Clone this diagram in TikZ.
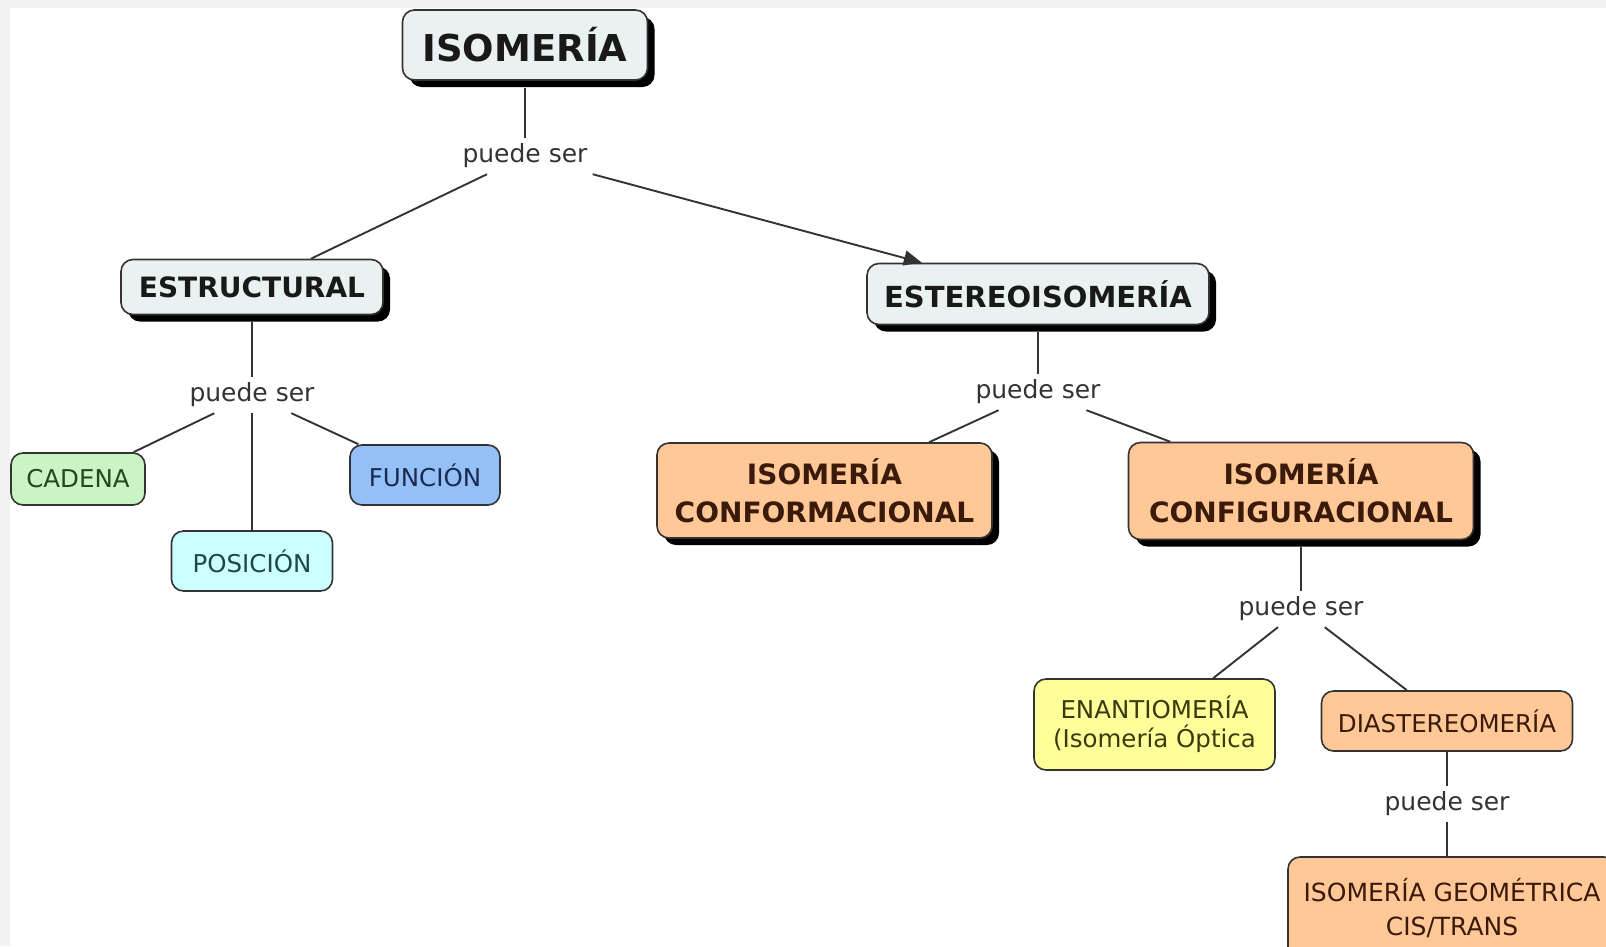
\documentclass[tikz,border=0pt]{standalone}
\usepackage{fontspec}
\setmainfont{DejaVu Sans}
\usetikzlibrary{arrows.meta,shadows}

\definecolor{grisBorde}{HTML}{F2F2F2}
\definecolor{fondoTit}{HTML}{E9F1F1}
\definecolor{lineaC}{HTML}{333333}
\definecolor{verdeC}{HTML}{C9F5C4}
\definecolor{verdeT}{HTML}{1E4A1E}
\definecolor{cianC}{HTML}{CCFFFF}
\definecolor{cianT}{HTML}{1E4848}
\definecolor{azulC}{HTML}{94BFF7}
\definecolor{azulT}{HTML}{1A2A50}
\definecolor{naranjaC}{HTML}{FFC896}
\definecolor{cafeT}{HTML}{3A1A0A}
\definecolor{amarilloC}{HTML}{FFFF99}
\definecolor{amarilloT}{HTML}{3A3A10}

\begin{document}
\begin{tikzpicture}[x=1pt,y=-1pt,
	concepto/.style={draw=lineaC, line width=1.6pt, rounded corners=12pt, align=center, inner sep=0pt,
		font=\fontsize{24.5}{30}\selectfont},
	sombra/.style={drop shadow={shadow xshift=7pt, shadow yshift=-7pt, opacity=1, fill=black}},
	titulo/.style={concepto, sombra, fill=fondoTit, text=black!90, font=\bfseries\fontsize{28}{34}\selectfont},
	naranja/.style={concepto, fill=naranjaC, text=cafeT},
	enlace/.style={font=\fontsize{25}{30}\selectfont, text=lineaC, inner xsep=12pt, minimum height=36pt},
	linea/.style={draw=lineaC, line width=1.9pt}]
			% fondo
			\useasboundingbox (0,0) rectangle (1606,946);
			\fill[white] (0,0) rectangle (1606,946);
			\fill[grisBorde] (0,0) rectangle (1606,8);
			\fill[grisBorde] (0,0) rectangle (10,946);
			% conceptos
			\node[titulo, font=\bfseries\fontsize{37}{40}\selectfont, minimum width=245pt, minimum height=70pt] (isomeria) at (525,45) {ISOMERÍA};
			\node[enlace] (ps1) at (525,156) {puede ser};
			\node[titulo, minimum width=262pt, minimum height=55pt] (estructural) at (252,287) {ESTRUCTURAL};
			\node[titulo, font=\bfseries\fontsize{29}{34}\selectfont, minimum width=342pt, minimum height=61pt] (estereo) at (1038,294) {ESTEREOISOMERÍA};
			\node[enlace] (ps2) at (252,395) {puede ser};
			\node[concepto, fill=verdeC, text=verdeT, minimum width=134pt, minimum height=52pt] (cadena) at (78,479) {CADENA};
			\node[concepto, fill=cianC, text=cianT, minimum width=161pt, minimum height=60pt] (posicion) at (252,561) {POSICIÓN};
			\node[concepto, fill=azulC, text=azulT, minimum width=150pt, minimum height=60pt] (funcion) at (425,475) {FUNCIÓN};
			\node[enlace] (ps3) at (1038,392) {puede ser};
			\node[naranja, sombra, font=\bfseries\fontsize{28}{38}\selectfont, minimum width=335pt, minimum height=95pt] (conform) at (824.5,490.5) {ISOMERÍA\\CONFORMACIONAL};
			\node[naranja, sombra, font=\bfseries\fontsize{28}{38}\selectfont, minimum width=345pt, minimum height=97pt] (config) at (1301,491) {ISOMERÍA\\CONFIGURACIONAL};
			\node[enlace] (ps4) at (1301,609) {puede ser};
			\node[concepto, fill=amarilloC, text=amarilloT, font=\fontsize{24.5}{29}\selectfont, minimum width=241pt, minimum height=91pt] (enantio) at (1154.5,724.5) {ENANTIOMERÍA\\(Isomería Óptica};
			\node[naranja, minimum width=251pt, minimum height=60pt] (diaster) at (1447,721) {DIASTEREOMERÍA};
			\node[enlace] (ps5) at (1447,804) {puede ser};
			\node[naranja, font=\fontsize{25}{34}\selectfont, minimum width=328pt, minimum height=103pt] (geometrica) at (1452,908.5) {ISOMERÍA GEOMÉTRICA\\CIS/TRANS};
			% conectores
			\draw[linea, shorten <=7pt] (isomeria) -- (ps1);
			\draw[linea] (ps1) -- (estructural);
			\draw[linea, -{Triangle[length=18pt,width=15pt]}] (ps1) -- (estereo);
			\draw[linea, shorten <=7pt] (estructural) -- (ps2);
			\draw[linea] (ps2) -- (cadena);
			\draw[linea] (ps2) -- (posicion);
			\draw[linea] (ps2) -- (funcion);
			\draw[linea, shorten <=7pt] (estereo) -- (ps3);
			\draw[linea] (ps3) -- (conform);
			\draw[linea] (ps3) -- (config);
			\draw[linea, shorten <=7pt] (config) -- (ps4);
			\draw[linea] (ps4) -- (enantio);
			\draw[linea] (ps4) -- (diaster);
			\draw[linea] (diaster) -- (ps5);
			\draw[linea] (ps5) -- (ps5 |- geometrica.north);
		\end{tikzpicture}
\end{document}
